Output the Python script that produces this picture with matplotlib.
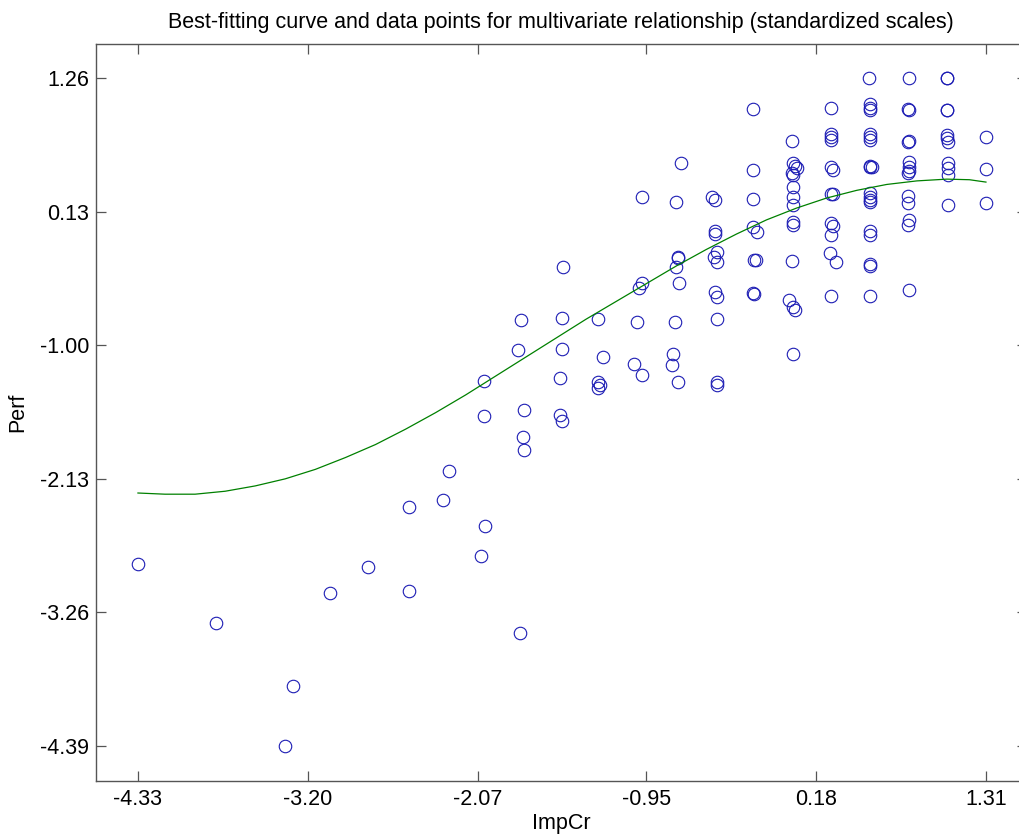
import matplotlib
matplotlib.use("Agg")
import matplotlib.pyplot as plt

plt.rcParams["font.family"] = ["Liberation Sans", "DejaVu Sans"]

# --- data (standardized scales)
imp_cr = [
    -4.33, -3.81, -3.35, -3.30, -3.05, -2.80, -2.53, -2.53,
    -2.30, -2.26, -2.03, -2.03, -2.05, -2.02,
    -1.78, -1.80, -1.79, -1.76, -1.77, -1.76,
    -1.50, -1.51, -1.51, -1.52, -1.52, -1.51,
    -1.27, -1.24, -1.27, -1.26, -1.27,
    -0.98, -0.98, -1.00, -1.01, -1.03, -0.98,
    -0.72, -0.75, -0.74, -0.74, -0.75, -0.73, -0.76, -0.77, -0.78, -0.74,
    -0.51, -0.49, -0.49, -0.49, -0.48, -0.50, -0.48, -0.49, -0.48, -0.48, -0.48, -0.48,
    -0.24, -0.24, -0.24, -0.24, -0.21, -0.23, -0.22, -0.24, -0.23,
    0.02, 0.03, 0.04, 0.05, 0.02, 0.03, 0.03, 0.03, 0.03, 0.03, 0.03, 0.02, 0.00, 0.03, 0.04, 0.03,
    0.28, 0.28, 0.28, 0.28, 0.28, 0.29, 0.28, 0.29, 0.28, 0.29, 0.28, 0.27, 0.31, 0.28,
    0.53, 0.54, 0.54, 0.54, 0.54, 0.54, 0.54, 0.54, 0.55, 0.54, 0.54, 0.54, 0.54, 0.54,
    0.54, 0.54, 0.54, 0.54, 0.54,
    0.80, 0.79, 0.80, 0.80, 0.79, 0.80, 0.80, 0.80, 0.79, 0.79, 0.79, 0.80, 0.79, 0.80,
    1.05, 1.05, 1.05, 1.05, 1.05, 1.05, 1.06, 1.06, 1.06, 1.06, 1.06,
    1.31, 1.31, 1.31,
]
perf = [
    -2.85, -3.35, -4.39, -3.88, -3.10, -2.88, -2.37, -3.08,
    -2.31, -2.06, -1.30, -1.60, -2.78, -2.53,
    -0.79, -1.04, -3.43, -1.55, -1.78, -1.89,
    -0.34, -0.77, -1.03, -1.28, -1.59, -1.64,
    -0.78, -1.10, -1.31, -1.34, -1.36,
    0.25, -0.47, -0.52, -0.80, -1.16, -1.25,
    0.54, 0.21, -0.25, -0.26, -0.34, -0.47, -0.80, -1.07, -1.17, -1.31,
    0.25, 0.23, -0.03, -0.06, -0.21, -0.25, -0.30, -0.55, -0.59, -0.78, -1.31, -1.34,
    1.00, 0.48, 0.24, 0.00, -0.04, -0.28, -0.28, -0.56, -0.57,
    0.73, 0.54, 0.52, 0.50, 0.46, 0.44, 0.34, 0.25, 0.19, 0.04, 0.02, -0.29, -0.62, -0.68, -0.70, -1.07,
    1.01, 0.79, 0.76, 0.74, 0.51, 0.48, 0.28, 0.28, 0.03, 0.01, -0.07, -0.22, -0.30, -0.58,
    1.26, 1.04, 1.01, 0.99, 0.79, 0.76, 0.74, 0.52, 0.51, 0.51, 0.29, 0.25, 0.23, 0.21,
    -0.03, -0.07, -0.31, -0.33, -0.58,
    1.26, 1.00, 0.99, 0.73, 0.72, 0.55, 0.51, 0.47, 0.46, 0.26, 0.20, 0.06, 0.02, -0.53,
    1.26, 1.26, 0.99, 0.99, 0.78, 0.75, 0.72, 0.54, 0.50, 0.44, 0.19,
    0.76, 0.49, 0.20,
]

# fitted curve, sampled along the green line in the picture
curve_x = [-4.33, -4.15, -3.95, -3.75, -3.55, -3.35, -3.15, -2.95, -2.75, -2.55,
           -2.35, -2.15, -1.95, -1.75, -1.55, -1.35, -1.15, -0.95, -0.75, -0.55,
           -0.35, -0.15, 0.05, 0.25, 0.45, 0.65, 0.85, 1.05, 1.20, 1.31]
curve_y = [-2.25, -2.26, -2.26, -2.235, -2.19, -2.13, -2.05, -1.95, -1.84, -1.71,
           -1.57, -1.42, -1.26, -1.10, -0.94, -0.78, -0.63, -0.48, -0.33, -0.19,
           -0.06, 0.06, 0.16, 0.245, 0.31, 0.36, 0.39, 0.405, 0.40, 0.38]

x_ticks = [-4.33, -3.20, -2.07, -0.95, 0.18, 1.31]
y_ticks = [-4.39, -3.26, -2.13, -1.00, 0.13, 1.26]

W, H = 1019, 839
fig = plt.figure(figsize=(W / 100, H / 100), dpi=100)
ax = fig.add_axes([96 / W, 1 - 781 / H, (1027 - 96) / W, (781 - 44) / H])

ax.plot(imp_cr, perf, "o", mfc="none", mec="#1c1cb4", ms=9, mew=0.8)
ax.plot(curve_x, curve_y, color="#008000", lw=0.9)

ax.set_xlim(-4.609, 1.583)
ax.set_ylim(-4.686, 1.548)
ax.set_xticks(x_ticks)
ax.set_yticks(y_ticks)
ax.set_xticklabels([f"{v:.2f}" for v in x_ticks])
ax.set_yticklabels([f"{v:.2f}" for v in y_ticks])
ax.tick_params(direction="in", top=True, right=True, length=7, width=0.9,
               color="#555555", labelsize=15.5)
ax.tick_params(axis="x", pad=6)
ax.tick_params(axis="y", pad=5)
for sp in ax.spines.values():
    sp.set_color("#555555")
    sp.set_linewidth(1.0)

fig.text(561 / W, 1 - 28 / H,
         "Best-fitting curve and data points for multivariate relationship (standardized scales)",
         ha="center", va="baseline", fontsize=15.5)
fig.text(561 / W, 1 - 823 / H, "ImpCr", ha="center", va="center", fontsize=15.5)
fig.text(18 / W, 1 - 412 / H, "Perf", ha="center", va="center", rotation=90, fontsize=15.5)

fig.savefig("out.png", dpi=100)
plt.close(fig)
